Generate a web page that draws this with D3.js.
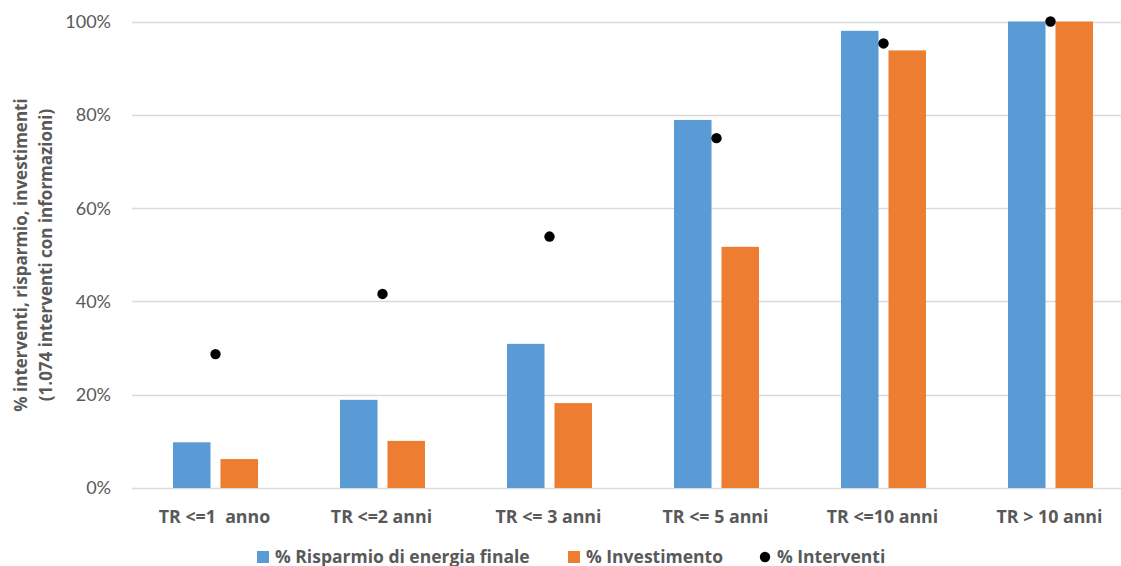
<!DOCTYPE html>
<html>
<head>
<meta charset="utf-8">
<script src="https://cdn.jsdelivr.net/npm/d3@7"></script>
<style>
  html, body { margin: 0; padding: 0; background: #fff; }
  svg { display: block; }
  text { font-family: Lato, "Open Sans", sans-serif; }
  text.b { font-family: "Open Sans", Lato, sans-serif; font-weight: bold; }
</style>
</head>
<body>
<svg id="chart" width="1121" height="566"></svg>
<script>
const categories = ["TR <=1  anno", "TR <=2 anni", "TR <= 3 anni", "TR <= 5 anni", "TR <=10 anni", "TR > 10 anni"];
const risparmio = [0.098, 0.189, 0.309, 0.789, 0.980, 1.000];
const investimento = [0.062, 0.101, 0.182, 0.517, 0.938, 1.000];
const interventi = [0.287, 0.416, 0.539, 0.750, 0.953, 1.000];
const yTicks = [0, 0.2, 0.4, 0.6, 0.8, 1.0];
const seriesNames = ["% Risparmio di energia finale", "% Investimento", "% Interventi"];
const colors = ["#5b9bd5", "#ed7d31", "#000000"];

const svg = d3.select("#chart");

const x = d3.scaleBand().domain(categories).range([132, 1134]).paddingInner(0).paddingOuter(0);
const xSub = d3.scaleBand().domain([0, 1]).range([41, 126]).paddingInner(0.21).paddingOuter(0);
const y = d3.scaleLinear().domain([0, 1]).range([488, 21.5]);

// gridlines
svg.append("g").selectAll("line").data(yTicks).join("line")
  .attr("x1", 132).attr("x2", 1134)
  .attr("y1", d => Math.round(y(d)) + 0.5).attr("y2", d => Math.round(y(d)) + 0.5)
  .attr("stroke", "#d9d9d9").attr("stroke-width", 1.3);

// y tick labels
svg.append("g").selectAll("text").data(yTicks).join("text")
  .attr("x", 111).attr("y", d => y(d))
  .attr("dy", "0.36em")
  .attr("text-anchor", "end")
  .attr("fill", "#595959")
  .attr("font-size", 18)
  .text(d => d3.format(".0%")(d));

// bars
const barData = [risparmio, investimento];
barData.forEach((vals, si) => {
  svg.append("g").selectAll("rect").data(vals).join("rect")
    .attr("x", (d, i) => x(categories[i]) + xSub(si))
    .attr("width", xSub.bandwidth())
    .attr("y", d => y(d))
    .attr("height", d => y(0) - y(d))
    .attr("fill", colors[si]);
});

// dots
svg.append("g").selectAll("circle").data(interventi).join("circle")
  .attr("cx", (d, i) => x(categories[i]) + x.bandwidth() / 2)
  .attr("cy", d => y(d))
  .attr("r", 5.2)
  .attr("fill", colors[2]);

// category labels
svg.append("g").selectAll("text").data(categories).join("text")
  .attr("class", "b")
  .attr("x", d => x(d) + x.bandwidth() / 2 - 1)
  .attr("y", 523)
  .attr("text-anchor", "middle")
  .attr("fill", "#595959")
  .attr("font-size", 17.8)
  .attr("xml:space", "preserve")
  .style("white-space", "pre")
  .text(d => d);

// y title
const yTitle = svg.append("text")
  .attr("class", "b")
  .attr("transform", "translate(0,255) rotate(-90)")
  .attr("text-anchor", "middle")
  .attr("fill", "#595959")
  .attr("font-size", 17);
yTitle.append("tspan").attr("x", 0).attr("y", 27).text("% interventi, risparmio, investimenti");
yTitle.append("tspan").attr("x", 0).attr("y", 52).text("(1.074 interventi con informazioni)");

// legend
const legend = svg.append("g");
const legendItems = [
  { name: seriesNames[0], color: colors[0], type: "rect", mx: 257, tx: 275 },
  { name: seriesNames[1], color: colors[1], type: "rect", mx: 568, tx: 586 },
  { name: seriesNames[2], color: colors[2], type: "circle", mx: 759, tx: 777 }
];
legendItems.forEach(it => {
  if (it.type === "rect") {
    legend.append("rect").attr("x", it.mx).attr("y", 551).attr("width", 12).attr("height", 12).attr("fill", it.color);
  } else {
    legend.append("circle").attr("cx", it.mx + 6).attr("cy", 557).attr("r", 5.2).attr("fill", it.color);
  }
  legend.append("text").attr("class", "b").attr("x", it.tx).attr("y", 562.5)
    .attr("fill", "#595959").attr("font-size", 17.5)
    .text(it.name);
});
</script>
</body>
</html>
